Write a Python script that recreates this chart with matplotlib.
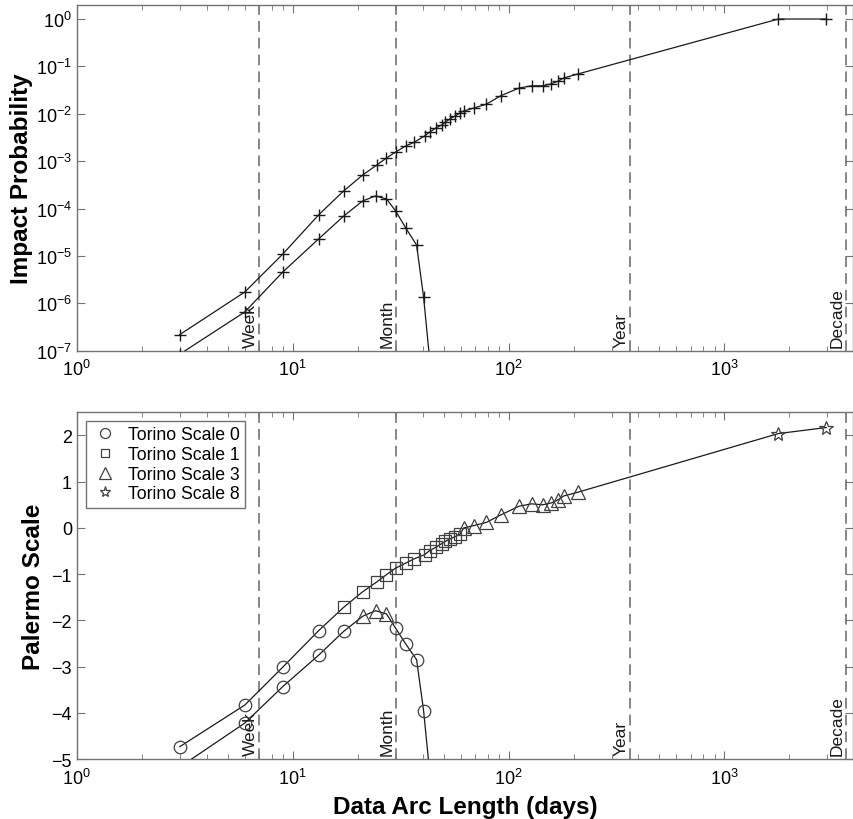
import math
import matplotlib
matplotlib.use("Agg")
import matplotlib.pyplot as plt
from matplotlib.ticker import LogLocator, NullLocator, NullFormatter, FixedLocator
from matplotlib.transforms import blended_transform_factory

plt.rcParams['font.family'] = ['Liberation Sans', 'DejaVu Sans']
plt.rcParams['mathtext.fontset'] = 'custom'
plt.rcParams['mathtext.rm'] = 'Liberation Sans'

# data arc lengths (days)
arc_upper = [3, 6, 9, 13.2, 17.2, 21.1, 24.5, 27.2, 30, 33.4, 36.5, 40.8, 43.1, 46, 49, 51,
             53.5, 56.5, 59.5, 62, 69, 79, 92, 112, 128, 144, 158, 170, 180, 209, 1780, 2965]
ip_upper = [2.2e-7, 1.74e-6, 1.1e-5, 7.4e-5, 2.35e-4, 5.1e-4, 8.3e-4, 1.17e-3, 1.56e-3, 2.1e-3,
            2.5e-3, 3.4e-3, 4.1e-3, 5.0e-3, 5.8e-3, 6.7e-3, 7.8e-3, 9.0e-3, 1.04e-2, 1.15e-2,
            1.32e-2, 1.6e-2, 2.4e-2, 3.5e-2, 3.9e-2, 3.9e-2, 4.3e-2, 4.9e-2, 5.7e-2, 6.9e-2, 1.0, 1.0]
ps_upper = [-4.73, -3.83, -3.01, -2.22, -1.72, -1.38, -1.17, -1.01, -0.87, -0.76, -0.67, -0.58,
            -0.49, -0.42, -0.34, -0.29, -0.24, -0.19, -0.14, 0.0, 0.05, 0.12, 0.28, 0.47, 0.52,
            0.50, 0.54, 0.61, 0.69, 0.77, 2.04, 2.17]
ts_upper = [0]*4 + [1]*15 + [3]*11 + [8]*2

arc_lower = [3, 6, 9, 13.2, 17.2, 21.1, 24.2, 27.2, 30, 33.4, 37.5, 40.4, 44]
ip_lower = [8.5e-8, 6.6e-7, 4.6e-6, 2.3e-5, 6.9e-5, 1.45e-4, 1.85e-4, 1.6e-4, 8.9e-5, 3.9e-5,
            1.7e-5, 1.37e-6, 2.5e-8]
ps_lower = [-5.17, -4.22, -3.43, -2.75, -2.24, -1.91, -1.79, -1.86, -2.17, -2.51, -2.85, -3.95, -5.7]
ts_lower = [0]*5 + [3]*3 + [0]*5

span_days = [7, 30, 365, 3652]
span_names = ['Week', 'Month', 'Year', 'Decade']

torino_levels = [0, 1, 3, 8]
torino_marks = {0: 'o', 1: 's', 3: '^', 8: '*'}
torino_size = {0: 9, 1: 8, 3: 10, 8: 10}

axcol = '0.45'

fig = plt.figure(figsize=(8.54, 8.2), dpi=100)
ax1 = fig.add_axes([0.090, 0.571, 0.909, 0.422])
ax2 = fig.add_axes([0.090, 0.073, 0.909, 0.423])


def style_axes(ax):
    ax.set_xscale('log')
    ax.set_xlim(1, 3950)
    for s in ax.spines.values():
        s.set_color(axcol)
        s.set_linewidth(1.0)
    ax.tick_params(which='both', direction='in', top=True, right=True, colors=axcol,
                   labelcolor='black', labelsize=13)
    ax.tick_params(which='major', length=6)
    ax.tick_params(which='minor', length=3.5)
    ax.tick_params(axis='x', which='major', pad=6)
    ax.xaxis.set_major_locator(LogLocator(base=10, numticks=10))
    ax.xaxis.set_minor_locator(LogLocator(base=10, subs=range(2, 10), numticks=20))
    ax.xaxis.set_minor_formatter(NullFormatter())
    ax.xaxis.set_major_formatter(plt.FuncFormatter(lambda v, p: r'$10^{%d}$' % round(math.log10(v))))
    trans = blended_transform_factory(ax.transData, ax.transAxes)
    for d, name in zip(span_days, span_names):
        ax.axvline(d, color='0.4', lw=1.1, dashes=(7, 4), zorder=1)
        ax.text(d * 0.985, 0.012, name, rotation=90, ha='right', va='bottom',
                fontsize=12.5, transform=trans, color='0.1')


# top panel: impact probability
style_axes(ax1)
ax1.set_yscale('log')
ax1.set_ylim(1e-7, 2)
ax1.yaxis.set_major_locator(LogLocator(base=10, numticks=10))
ax1.yaxis.set_minor_locator(NullLocator())
ax1.plot(arc_upper, ip_upper, color='0.1', lw=0.9, marker='+', ms=9, mew=1.0, zorder=3)
ax1.plot(arc_lower, ip_lower, color='0.1', lw=0.9, marker='+', ms=9, mew=1.0, zorder=3)
ax1.set_ylabel('Impact Probability', fontsize=17.5, fontweight='bold')
ax1.yaxis.set_label_coords(-0.056, 0.5)

# bottom panel: palermo scale
style_axes(ax2)
ax2.set_ylim(-5, 2.5)
ax2.yaxis.set_major_locator(FixedLocator(range(-5, 3)))
ax2.yaxis.set_minor_locator(NullLocator())
ax2.plot(arc_upper, ps_upper, color='0.1', lw=0.9, zorder=3)
ax2.plot(arc_lower, ps_lower, color='0.1', lw=0.9, zorder=3)
handles = []
for lev in torino_levels:
    xs = [a for a, t in zip(arc_upper, ts_upper) if t == lev] + \
         [a for a, t in zip(arc_lower, ts_lower) if t == lev]
    ys = [p for p, t in zip(ps_upper, ts_upper) if t == lev] + \
         [p for p, t in zip(ps_lower, ts_lower) if t == lev]
    h, = ax2.plot(xs, ys, ls='none', marker=torino_marks[lev], ms=torino_size[lev],
                  mfc='none', mec='0.25', mew=0.9, zorder=4, label='Torino Scale %d' % lev)
    handles.append(h)
leg = ax2.legend(handles=handles, loc='upper left', fontsize=12.7, fancybox=False,
                 edgecolor=axcol, framealpha=1, borderaxespad=0.5, handletextpad=0.5,
                 handlelength=1.6, labelspacing=0.15, borderpad=0.3, markerscale=0.8)
leg.get_frame().set_linewidth(1.0)
ax2.set_ylabel('Palermo Scale', fontsize=17.5, fontweight='bold')
ax2.yaxis.set_label_coords(-0.041, 0.5)
ax2.set_xlabel('Data Arc Length (days)', fontsize=17.5, fontweight='bold', labelpad=5)

fig.savefig('out.png', dpi=100)
